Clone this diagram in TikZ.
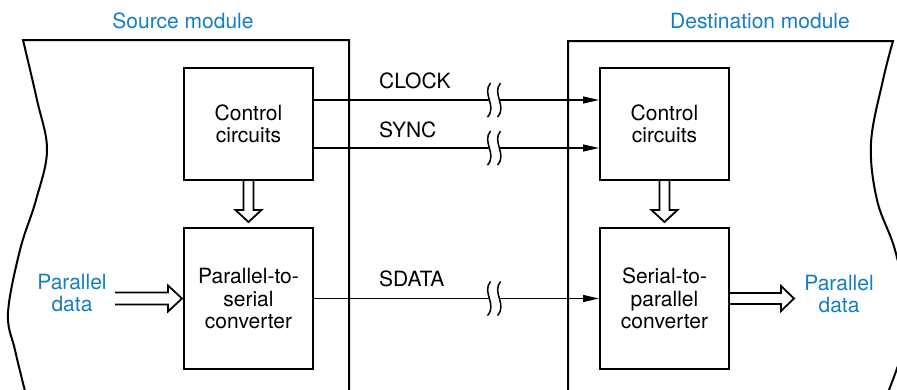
\documentclass[tikz,border=0pt]{standalone}
\usepackage{fontspec}
\setmainfont{TeX Gyre Heros}
\usetikzlibrary{arrows.meta,calc}
\definecolor{labelblue}{RGB}{20,125,195}
\begin{document}
\begin{tikzpicture}[x=1pt,y=-1pt,
  every node/.style={font=\fontsize{21}{22.5}\selectfont, inner sep=0pt},
  block/.style={draw, line width=2pt, minimum width=129pt, anchor=north west, align=center},
  module/.style={line width=2pt, line join=miter},
  sig/.style={line width=1.3pt, -{Triangle[length=16pt,width=7pt]}},
  hollow/.style={line width=1.8pt, fill=white, line join=miter},
  bluetext/.style={text=labelblue, align=center},
  brk/.pic={
    \fill[white] (-5,-4) rectangle (5,4);
    \draw[line width=1.5pt] (-3,-17) .. controls (-12,-6) and (4,6) .. (-6,17);
    \draw[line width=1.5pt] (7,-17) .. controls (-2,-6) and (14,6) .. (4,17);
  }]
\useasboundingbox (0,0) rectangle (897,389);
\clip (0,0) rectangle (897,389);

% module outlines with torn outer edges
\draw[module] plot[smooth, tension=0.6] coordinates
  {(26,395) (15,350) (8,313) (20,250) (36,200) (47,150) (37,100) (23,40)}
  -- (349,40) -- (349,395);
\draw[module] (568,395) -- (568,41) -- plot[smooth, tension=0.6] coordinates
  {(893,41) (883,80) (871,143) (877,200) (895,250) (908,313) (903,350) (887,395)};

% functional blocks
\node[block, minimum height=112pt] (ctlS) at (183,67) {Control\\circuits};
\node[block, minimum height=141pt] (convS) at (183,227) {Parallel-to-\\serial\\converter};
\node[block, minimum height=112pt] (ctlD) at (599,67) {Control\\circuits};
\node[block, minimum height=141pt] (convD) at (599,227) {Serial-to-\\parallel\\converter};

% titles and data labels
\node[bluetext] (srcT) at (183,21) {Source module};
\node[bluetext] (dstT) at (760,21) {Destination module};
\node[bluetext] (pdinT) at (72,293) {Parallel\\data};
\node[bluetext] (pdoutT) at (839,294) {Parallel\\data};
\coordinate (pdin) at ($(convS.west)+(-68,0)$);
\coordinate (pdout) at ($(convD.east)+(64,0)$);

% serial interconnection lines, broken to show distance
\draw[sig] ($(ctlS.east)+(0,-24)$) -- ($(ctlD.west)+(0,-24)$);
\draw[sig] ($(ctlS.east)+(0,24)$) -- ($(ctlD.west)+(0,24)$);
\draw[sig] (convS.east) -- (convD.west);
\pic at ($(ctlS.east)!0.5!(ctlD.west)+(37,-24)$) {brk};
\pic at ($(ctlS.east)!0.5!(ctlD.west)+(37,24)$) {brk};
\pic at ($(convS.east)!0.5!(convD.west)+(37,0)$) {brk};

\node[anchor=west] (clk) at (379,81) {CLOCK};
\node[anchor=west] (syn) at (379,130) {SYNC};
\node[anchor=west] (sdat) at (379,279) {SDATA};

% wide (hollow) arrows
\draw[hollow] ($(ctlS.south)+(-5,0)$) -- ($(convS.north)+(-5,-17)$) -- ($(convS.north)+(-13,-17)$)
  -- ($(convS.north)+(0,-5)$) -- ($(convS.north)+(13,-17)$) -- ($(convS.north)+(5,-17)$) -- ($(ctlS.south)+(5,0)$);
\draw[hollow] ($(ctlD.south)+(-5,0)$) -- ($(convD.north)+(-5,-17)$) -- ($(convD.north)+(-13,-17)$)
  -- ($(convD.north)+(0,-5)$) -- ($(convD.north)+(13,-17)$) -- ($(convD.north)+(5,-17)$) -- ($(ctlD.south)+(5,0)$);
\draw[hollow] ($(pdin)+(0,-6)$) -- ($(convS.west)+(-15,-6)$) -- ($(convS.west)+(-15,-13)$)
  -- ($(convS.west)+(-1,0)$) -- ($(convS.west)+(-15,13)$) -- ($(convS.west)+(-15,6)$) -- ($(pdin)+(0,6)$);
\draw[hollow] ($(convD.east)+(0,-5.5)$) -- ($(pdout)+(-13,-5.5)$) -- ($(pdout)+(-13,-12.5)$)
  -- (pdout) -- ($(pdout)+(-13,12.5)$) -- ($(pdout)+(-13,5.5)$) -- ($(convD.east)+(0,5.5)$);
\end{tikzpicture}
\end{document}
